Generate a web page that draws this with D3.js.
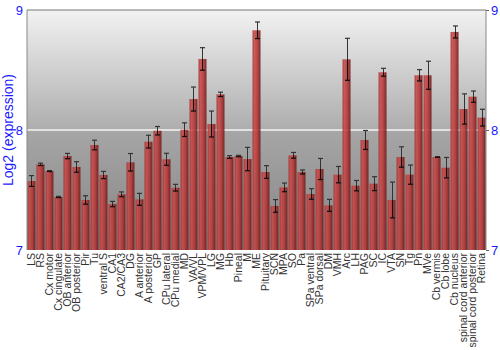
<!DOCTYPE html>
<html>
<head>
<meta charset="utf-8">
<script src="https://cdn.jsdelivr.net/npm/d3@7"></script>
<style>
  body { margin: 0; background: #fff; }
  svg { display: block; font-family: "Liberation Sans", Arial, sans-serif; }
</style>
</head>
<body>
<div id="chart"></div>
<script>
// Brain regions
const regions = ['LS', 'RS', 'Cx motor', 'Cx cingulate', 'OB anterior', 'OB posterior', 'Pir', 'Tu',
  'ventral S', 'CA1', 'CA2/CA3', 'DG', 'A anterior', 'A posterior', 'GP', 'CPu lateral', 'CPu medial',
  'MD', 'VA/VL', 'VPM/VPL', 'LG', 'MG', 'Hb', 'Pineal', 'M', 'ME', 'Pituitary', 'SCN', 'MPA', 'SO',
  'Pa', 'SPa ventral', 'SPa dorsal', 'DM', 'VMH', 'Arc', 'LH', 'PAG', 'SC', 'IC', 'VTA', 'SN', 'Tg',
  'Pn', 'MVe', 'Cb vermis', 'Cb lobe', 'Cb nucleus', 'spinal cord anterior', 'spinal cord posterior', 'Retina'];

// Mean log2 expression
const means = [7.575, 7.714, 7.658, 7.442, 7.783, 7.692, 7.417, 7.875,
  7.625, 7.383, 7.464, 7.731, 7.422, 7.903, 7.994, 7.756, 7.519,
  8.003, 8.258, 8.592, 8.05, 8.297, 7.775, 7.783, 7.758, 8.831, 7.65, 7.367, 7.522, 7.789,
  7.65, 7.467, 7.675, 7.372, 7.628, 8.589, 7.536, 7.917, 7.553, 8.481, 7.417, 7.775, 7.628,
  8.456, 8.456, 7.775, 7.686, 8.817, 8.175, 8.278, 8.103];

// Error (+/-)
const errors = [0.045, 0.01, 0.004, 0.005, 0.022, 0.044, 0.035, 0.04,
  0.03, 0.022, 0.02, 0.073, 0.05, 0.053, 0.035, 0.05, 0.028,
  0.057, 0.1, 0.094, 0.108, 0.018, 0.011, 0.006, 0.097, 0.069, 0.053, 0.053, 0.036, 0.024,
  0.017, 0.044, 0.088, 0.05, 0.068, 0.175, 0.043, 0.079, 0.058, 0.033, 0.149, 0.085, 0.08,
  0.047, 0.117, 0.003, 0.085, 0.05, 0.126, 0.047, 0.07];

const yTicks = [7, 8, 9];

const width = 500, height = 350;
const margin = { top: 10, right: 14, bottom: 100, left: 27 };
const innerW = width - margin.left - margin.right;
const innerH = height - margin.top - margin.bottom;

const data = regions.map((name, i) => ({ name, value: means[i], err: errors[i] }));

const svg = d3.select('#chart')
  .append('svg')
    .attr('width', width)
    .attr('height', height);

const defs = svg.append('defs');

const bg = defs.append('linearGradient')
    .attr('id', 'bg-grad')
    .attr('x1', 0).attr('y1', 0).attr('x2', 0).attr('y2', 1);
bg.append('stop').attr('offset', '0%').attr('stop-color', '#f2f2f2');
bg.append('stop').attr('offset', '50%').attr('stop-color', '#adadad');
bg.append('stop').attr('offset', '50.5%').attr('stop-color', '#a6a6a6');
bg.append('stop').attr('offset', '100%').attr('stop-color', '#848484');

const barGrad = defs.append('linearGradient')
    .attr('id', 'bar-grad')
    .attr('x1', 0).attr('y1', 0).attr('x2', 1).attr('y2', 0);
barGrad.append('stop').attr('offset', '0%').attr('stop-color', '#a33030');
barGrad.append('stop').attr('offset', '25%').attr('stop-color', '#c84848');
barGrad.append('stop').attr('offset', '60%').attr('stop-color', '#b33636');
barGrad.append('stop').attr('offset', '100%').attr('stop-color', '#6e1616');

const g = svg.append('g')
    .attr('transform', `translate(${margin.left},${margin.top})`);

const x = d3.scaleBand()
  .domain(regions)
  .range([0, innerW])
  .paddingInner(0.11)
  .paddingOuter(0.05);

const y = d3.scaleLinear()
  .domain([7, 9])
  .range([innerH, 0]);

// Background
g.append('rect')
    .attr('width', innerW)
    .attr('height', innerH)
    .attr('fill', 'url(#bg-grad)');

// Grid line at 8
g.append('line')
    .attr('x1', 0).attr('x2', innerW)
    .attr('y1', y(8)).attr('y2', y(8))
    .attr('stroke', '#f4f4f4')
    .attr('stroke-width', 1.5);

// Error bars (below bars)
const errG = g.append('g');
data.forEach(d => {
  const cx = Math.round(x(d.name) + x.bandwidth() / 2) + 0.5;
  errG.append('line')
      .attr('x1', cx).attr('x2', cx)
      .attr('y1', y(d.value + d.err)).attr('y2', y(d.value - d.err))
      .attr('stroke', '#333');
  [d.value + d.err, d.value - d.err].forEach(v => {
    errG.append('line')
        .attr('x1', cx - 2.5).attr('x2', cx + 2.5)
        .attr('y1', y(v)).attr('y2', y(v))
        .attr('stroke', '#333')
        .attr('stroke-width', 1.2);
  });
});

// Bars
g.selectAll('rect.bar')
  .data(data)
  .enter()
  .append('rect')
    .attr('class', 'bar')
    .attr('x', d => x(d.name))
    .attr('y', d => y(d.value))
    .attr('width', x.bandwidth())
    .attr('height', d => innerH - y(d.value))
    .attr('fill', 'url(#bar-grad)')
    .attr('fill-opacity', 0.88);

// Error bar part inside bars, drawn on top
const errTop = g.append('g');
data.forEach(d => {
  const cx = Math.round(x(d.name) + x.bandwidth() / 2) + 0.5;
  errTop.append('line')
      .attr('x1', cx).attr('x2', cx)
      .attr('y1', y(d.value)).attr('y2', y(d.value - d.err))
      .attr('stroke', '#111');
  errTop.append('line')
      .attr('x1', cx - 2.5).attr('x2', cx + 2.5)
      .attr('y1', y(d.value - d.err)).attr('y2', y(d.value - d.err))
      .attr('stroke', '#111')
      .attr('stroke-width', 1.2);
});

// Frame lines
g.append('line')
    .attr('x1', 0).attr('x2', innerW).attr('y1', 0).attr('y2', 0)
    .attr('stroke', '#777');
g.append('line')
    .attr('x1', 0).attr('x2', 0).attr('y1', 0).attr('y2', innerH)
    .attr('stroke', '#888');
g.append('line')
    .attr('x1', innerW).attr('x2', innerW).attr('y1', 0).attr('y2', innerH)
    .attr('stroke', '#888');

// Left axis
const yLeft = g.append('g')
    .call(d3.axisLeft(y).tickValues(yTicks).tickFormat(d3.format('d')).tickSize(0).tickPadding(4));
yLeft.select('.domain').remove();
yLeft.selectAll('text')
    .attr('fill', '#1a1aff')
    .style('font-size', '13px');

// Right axis
const yRight = g.append('g')
    .attr('transform', `translate(${innerW},0)`)
    .call(d3.axisRight(y).tickValues(yTicks).tickFormat(d3.format('d')).tickSize(3).tickPadding(2));
yRight.select('.domain').remove();
yRight.selectAll('line').attr('stroke', '#666');
yRight.selectAll('text')
    .attr('fill', '#1a1aff')
    .style('font-size', '13px');

// Y label
svg.append('text')
    .attr('transform', `translate(13,${margin.top + innerH / 2}) rotate(-90)`)
    .attr('text-anchor', 'middle')
    .attr('fill', '#1a1aff')
    .style('font-size', '14px')
    .text('Log2 (expression)');

// X axis labels
const xAxis = g.append('g')
    .attr('transform', `translate(0,${innerH})`)
    .call(d3.axisBottom(x).tickSize(0).tickPadding(3));
xAxis.select('.domain').remove();
xAxis.selectAll('text')
    .attr('transform', 'rotate(-90)')
    .attr('text-anchor', 'end')
    .attr('x', -3)
    .attr('y', 0)
    .attr('dy', '0.35em')
    .attr('fill', '#333')
    .style('font-size', '10.5px');
</script>
</body>
</html>
